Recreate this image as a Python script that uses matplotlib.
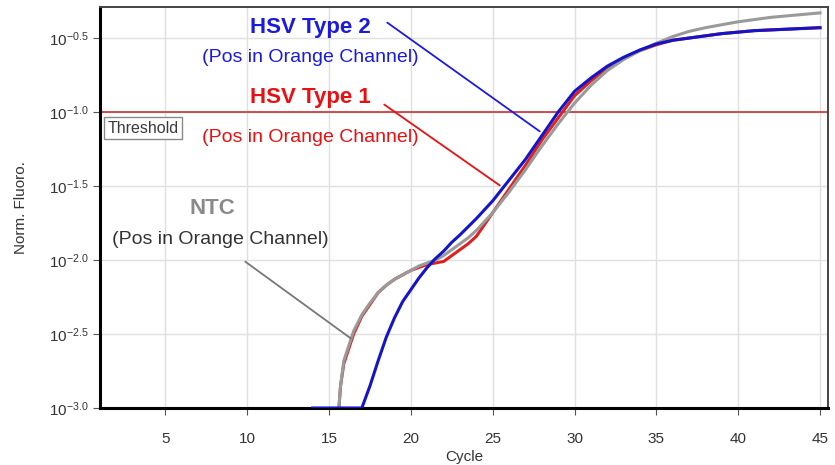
import numpy as np
import matplotlib
matplotlib.use("Agg")
import matplotlib.pyplot as plt

plt.rcParams['font.family'] = ['Liberation Sans', 'DejaVu Sans']
plt.rcParams['mathtext.fontset'] = 'custom'
plt.rcParams['mathtext.rm'] = 'Liberation Sans'
plt.rcParams['mathtext.it'] = 'Liberation Sans'
plt.rcParams['axes.unicode_minus'] = False

# HSV Type 2 (blue), log10 of normalised fluorescence
hsv2_cycle = [14.0, 15.0, 16.0, 17.0, 17.5, 18.0, 18.5, 19.0, 19.5, 20.0, 20.5, 21.0, 21.5,
              22.0, 22.5, 23.0, 24.0, 25.0, 26.0, 27.0, 28.0, 29.0, 30.0, 31.0, 32.0, 33.0,
              34.0, 35.0, 36.0, 37.0, 38.0, 39.0, 40.0, 41.0, 42.0, 43.0, 44.0, 45.0]
hsv2_log = [-3.0, -3.0, -3.0, -3.0, -2.85, -2.68, -2.52, -2.39, -2.28, -2.20, -2.12, -2.05, -1.99,
            -1.94, -1.88, -1.83, -1.72, -1.60, -1.46, -1.32, -1.16, -1.00, -0.86, -0.77, -0.69, -0.63,
            -0.58, -0.54, -0.515, -0.50, -0.485, -0.47, -0.46, -0.45, -0.445, -0.44, -0.435, -0.43]

# HSV Type 1 (red)
hsv1_cycle = [15.6, 15.7, 15.9, 16.2, 16.5, 17.0, 17.5, 18.0, 18.5, 19.0, 19.5, 20.0, 20.5,
              21.0, 21.5, 22.0, 22.5, 23.0, 23.5, 24.0, 24.5, 25.0, 25.5, 26.0, 27.0, 28.0,
              29.0, 30.0, 31.0, 32.0, 33.0, 34.0, 35.0, 36.0, 37.0, 38.0, 39.0, 40.0, 41.0,
              42.0, 43.0, 44.0, 45.0]
hsv1_log = [-3.0, -2.85, -2.70, -2.60, -2.50, -2.38, -2.30, -2.22, -2.17, -2.13, -2.10, -2.07, -2.05,
            -2.03, -2.02, -2.01, -1.97, -1.93, -1.89, -1.84, -1.76, -1.68, -1.60, -1.52, -1.36, -1.19,
            -1.04, -0.89, -0.79, -0.70, -0.635, -0.585, -0.545, -0.515, -0.50, -0.485, -0.47, -0.46, -0.45,
            -0.445, -0.44, -0.435, -0.43]

# NTC (gray)
ntc_cycle = [15.6, 15.7, 15.9, 16.2, 16.5, 17.0, 17.5, 18.0, 18.5, 19.0, 19.5, 20.0, 20.5,
             21.0, 21.5, 22.0, 22.5, 23.0, 23.5, 24.0, 24.5, 25.0, 25.5, 26.0, 27.0, 28.0,
             29.0, 30.0, 31.0, 32.0, 33.0, 34.0, 35.0, 36.0, 37.0, 38.0, 39.0, 40.0, 41.0,
             42.0, 43.0, 44.0, 45.0]
ntc_log = [-3.0, -2.85, -2.68, -2.58, -2.48, -2.37, -2.29, -2.22, -2.17, -2.13, -2.10, -2.07, -2.04,
           -2.02, -2.00, -1.97, -1.93, -1.89, -1.85, -1.80, -1.74, -1.68, -1.61, -1.54, -1.39, -1.23,
           -1.08, -0.94, -0.82, -0.72, -0.645, -0.585, -0.535, -0.49, -0.455, -0.43, -0.41, -0.39, -0.375,
           -0.36, -0.35, -0.34, -0.33]

threshold = 10 ** -1.0
x_ticks = [5, 10, 15, 20, 25, 30, 35, 40, 45]
y_tick_exp = [-3.0, -2.5, -2.0, -1.5, -1.0, -0.5]

fig = plt.figure(figsize=(8.35, 4.65), dpi=100)
ax = fig.add_axes([0.1198, 0.1226, 0.8720, 0.8624])

ax.plot(hsv1_cycle, 10 ** np.array(hsv1_log), color='#e02020', lw=2.2, zorder=3)
ax.plot(ntc_cycle, 10 ** np.array(ntc_log), color='#9a9a9a', lw=2.2, zorder=3)
ax.plot(hsv2_cycle, 10 ** np.array(hsv2_log), color='#1414c8', lw=2.2, zorder=4)

ax.axhline(threshold, color='#c83232', lw=1.2, zorder=2)
ax.text(1.45, 10 ** -1.108, 'Threshold', fontsize=11.5, color='#3a3a3a', va='center', ha='left',
        bbox=dict(boxstyle='square,pad=0.2', fc='white', ec='#8a8a8a', lw=1.0), zorder=5)

ax.set_yscale('log')
ax.set_xlim(1.0, 45.5)
ax.set_ylim(10 ** -3.0, 10 ** -0.29)
ax.set_xticks(x_ticks)
ax.set_yticks([10 ** e for e in y_tick_exp])
ax.set_yticklabels([r'$\mathregular{10^{%.1f}}$' % e for e in y_tick_exp])
ax.minorticks_off()
ax.tick_params(axis='both', labelsize=11, labelcolor='#333333', color='#555555', length=5)
ax.tick_params(axis='x', pad=12)
ax.grid(True, color='#e0e0e0', lw=1.0)
ax.set_axisbelow(True)

for side in ['left', 'bottom']:
    ax.spines[side].set_linewidth(2.2)
    ax.spines[side].set_color('black')
for side in ['top', 'right']:
    ax.spines[side].set_linewidth(1.4)
    ax.spines[side].set_color('#444444')

ax.set_xlabel('Cycle', fontsize=11, color='#333333', labelpad=3)
ax.set_ylabel('Norm. Fluoro.', fontsize=11, color='#333333', labelpad=15)


def px(x, y):
    # figure pixel (from top-left) -> data coords
    return ax.transData.inverted().transform((x, 465 - y))


ax.annotate('', xy=px(542, 133), xytext=px(385, 21), xycoords='data',
            arrowprops=dict(arrowstyle='-', color='#1a1ae0', lw=1.3))
ax.annotate('', xy=px(502, 187), xytext=px(382, 103), xycoords='data',
            arrowprops=dict(arrowstyle='-', color='#e81010', lw=1.3))
ax.annotate('', xy=px(353, 340), xytext=px(243, 260), xycoords='data',
            arrowprops=dict(arrowstyle='-', color='#777777', lw=1.3))

fig.text(310 / 835, 1 - 27 / 465, 'HSV Type 2', fontsize=16, fontweight='bold', color='#1a1ae0',
         ha='center', va='center')
fig.text(310 / 835, 1 - 58 / 465, '(Pos in Orange Channel)', fontsize=14, color='#1a1ae0',
         ha='center', va='center')
fig.text(310 / 835, 1 - 97 / 465, 'HSV Type 1', fontsize=16, fontweight='bold', color='#e81010',
         ha='center', va='center')
fig.text(310 / 835, 1 - 138 / 465, '(Pos in Orange Channel)', fontsize=14, color='#e81010',
         ha='center', va='center')
fig.text(212 / 835, 1 - 209 / 465, 'NTC', fontsize=16, fontweight='bold', color='#8a8a8a',
         ha='center', va='center')
fig.text(220 / 835, 1 - 239 / 465, '(Pos in Orange Channel)', fontsize=14, color='#333333',
         ha='center', va='center')

fig.savefig('out.png', dpi=100)
